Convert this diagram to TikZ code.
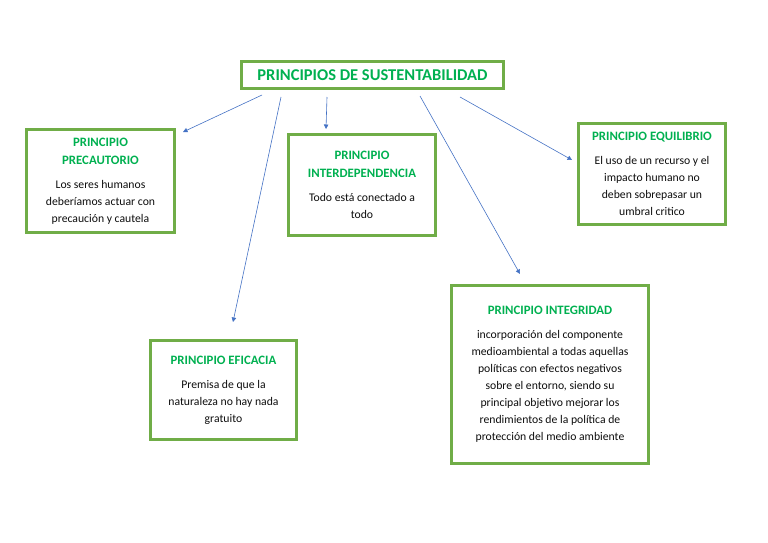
\documentclass[tikz,border=0pt]{standalone}
\usepackage{fontspec}
\setmainfont{Carlito}
\usetikzlibrary{calc,arrows.meta}
\definecolor{boxline}{HTML}{70AD47}
\definecolor{headtxt}{HTML}{00B050}
\definecolor{arrcol}{HTML}{4472C4}
\definecolor{bodytxt}{HTML}{0D0D0D}
\newcommand{\hdr}{\fontsize{12.8}{18}\selectfont\bfseries\color{headtxt}}

\begin{document}
\begin{tikzpicture}[
  x=1pt, y=-1pt,
  box/.style={draw=boxline, line width=3pt, align=center, inner sep=2pt,
    font=\fontsize{11.7}{17}\selectfont, text=bodytxt},
  arr/.style={-{Triangle[length=4.5pt,width=4.5pt]}, arrcol, line width=0.6pt}
]
\useasboundingbox (0,0) rectangle (768,543);

% =================== title ===================
\node[box, minimum width=262pt, minimum height=27pt, font=\fontsize{16.5}{18}\selectfont\bfseries, text=headtxt]
  (title) at (372.5,75) {PRINCIPIOS DE SUSTENTABILIDAD};

% =================== principles ===================
\node[box, minimum width=148pt, minimum height=103pt] (precaut) at (100.5,181)
  {{\hdr PRINCIPIO}\\[1pt]{\hdr PRECAUTORIO}\\[7pt]Los seres humanos\\deberíamos actuar con\\precaución y cautela};
\node[box, minimum width=147pt, minimum height=101pt] (interdep) at (362,185)
  {{\hdr PRINCIPIO}\\[1pt]{\hdr INTERDEPENDENCIA}\\[7pt]Todo está conectado a\\todo};
\node[box, minimum width=147pt, minimum height=101pt] (equil) at (652,174)
  {{\hdr PRINCIPIO EQUILIBRIO}\\[7pt]El uso de un recurso y el\\impacto humano no\\deben sobrepasar un\\umbral critico};
\node[box, minimum width=197pt, minimum height=178pt] (integr) at (550,374.5)
  {{\hdr PRINCIPIO INTEGRIDAD}\\[7pt]incorporación del componente\\medioambiental a todas aquellas\\políticas con efectos negativos\\sobre el entorno, siendo su\\principal objetivo mejorar los\\rendimientos de la política de\\protección del medio ambiente};
\node[box, minimum width=146pt, minimum height=99pt] (eficacia) at (223.5,390)
  {{\hdr PRINCIPIO EFICACIA}\\[7pt]Premisa de que la\\naturaleza no hay nada\\gratuito};

% =================== arrows ===================
\draw[arr] ($(title.south west)+(22,5)$) -- ($(precaut.north east)+(7,4)$);
\draw[arr] ($(title.south west)+(41,7)$) -- ($(eficacia.north west)+(84,-17)$);
\draw[arr] ($(title.south west)+(87,7)$) -- ($(interdep.north west)+(39,-4)$);
\draw[arr] ($(title.south west)+(180,6)$) -- ($(integr.north west)+(70,-10)$);
\draw[arr] ($(title.south west)+(220,7)$) -- ($(equil.north west)+(-5,38)$);

\end{tikzpicture}
\end{document}
